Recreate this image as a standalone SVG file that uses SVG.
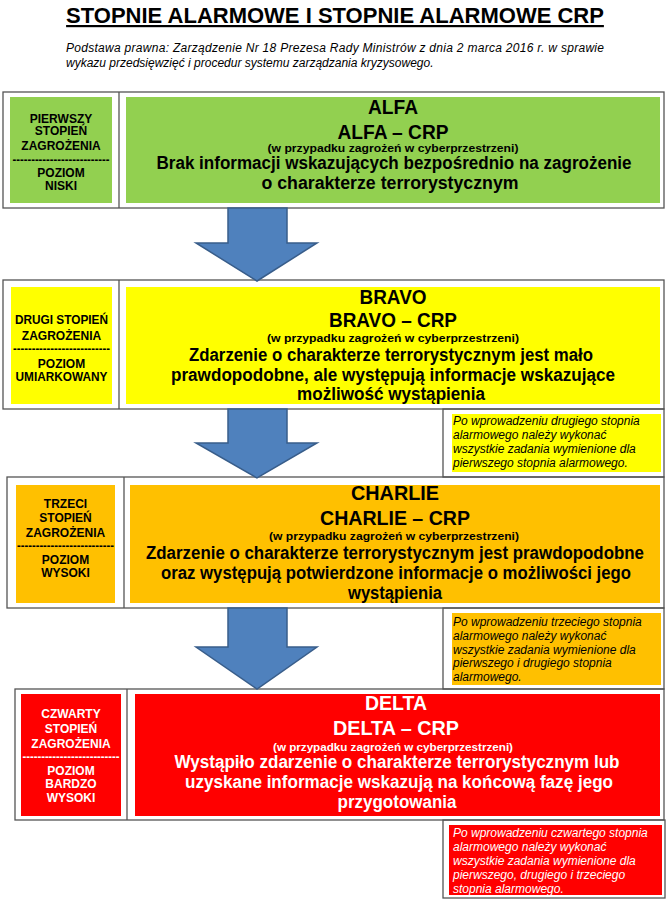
<svg xmlns="http://www.w3.org/2000/svg" width="670" height="904" viewBox="0 0 670 904">
<style>
text{font-family:"Liberation Sans",Arial,sans-serif;fill:#000}
.frame{fill:none;stroke:#555;stroke-width:1.3}
.dv{stroke:#555;stroke-width:1.3}
.h{font-weight:bold;font-size:20px;text-anchor:middle}
.s{font-weight:bold;font-size:11.5px;text-anchor:middle}
.b{font-weight:bold;font-size:17.5px;text-anchor:middle}
.l{font-weight:bold;font-size:12px;text-anchor:middle}
.n{font-style:italic;font-size:12px}
.w{fill:#fff}
.green{fill:#92D050}
.yellow{fill:#FFFF00}
.orange{fill:#FFC000}
.red{fill:#FF0000}
.arrow{fill:#4F81BD;stroke:#385D8A;stroke-width:1.5}
</style>
<rect width="670" height="904" fill="#fff"/>

<g id="title">
<text x="335" y="23" text-anchor="middle" font-weight="bold" font-size="22" text-decoration="underline">STOPNIE ALARMOWE I STOPNIE ALARMOWE CRP</text>
<text class="n" x="66" y="52" textLength="538" lengthAdjust="spacing">Podstawa prawna: Zarządzenie Nr 18 Prezesa Rady Ministrów z dnia 2 marca 2016 r. w sprawie</text>
<text class="n" x="66" y="67">wykazu przedsięwzięć i procedur systemu zarządzania kryzysowego.</text>
</g>

<g id="alfa">
<rect class="frame" x="3" y="92" width="661" height="116"/>
<line class="dv" x1="119" y1="92" x2="119" y2="208"/>
<rect class="green" x="10" y="97" width="102" height="106"/>
<rect class="green" x="126" y="97" width="534" height="106"/>
<text class="l" x="61" y="122.5">PIERWSZY</text>
<text class="l" x="61" y="135">STOPIEŃ</text>
<text class="l" x="61" y="149.5">ZAGROŻENIA</text>
<text class="l" x="61" y="163.5" textLength="97" lengthAdjust="spacingAndGlyphs">--------------------------</text>
<text class="l" x="61" y="177">POZIOM</text>
<text class="l" x="61" y="190">NISKI</text>
<text class="h" x="393" y="114" textLength="50" lengthAdjust="spacingAndGlyphs">ALFA</text>
<text class="h" x="393" y="139" textLength="111" lengthAdjust="spacingAndGlyphs">ALFA – CRP</text>
<text class="s" x="393" y="152" textLength="251" lengthAdjust="spacingAndGlyphs">(w przypadku zagrożeń w cyberprzestrzeni)</text>
<text class="b" x="394" y="169" textLength="475" lengthAdjust="spacingAndGlyphs">Brak informacji wskazujących bezpośrednio na zagrożenie</text>
<text class="b" x="390" y="189" textLength="257" lengthAdjust="spacingAndGlyphs">o charakterze terrorystycznym</text>
</g>

<g id="bravo">
<rect class="frame" x="3" y="280" width="661" height="129"/>
<line class="dv" x1="119" y1="280" x2="119" y2="409"/>
<rect class="yellow" x="11" y="287" width="101" height="117"/>
<rect class="yellow" x="126" y="287" width="534" height="117"/>
<text class="l" x="61.5" y="323.5" textLength="93" lengthAdjust="spacingAndGlyphs">DRUGI STOPIEŃ</text>
<text class="l" x="61.5" y="339.5">ZAGROŻENIA</text>
<text class="l" x="61.5" y="352.6" textLength="97" lengthAdjust="spacingAndGlyphs">--------------------------</text>
<text class="l" x="61.5" y="367.5">POZIOM</text>
<text class="l" x="61.5" y="380.5" textLength="92" lengthAdjust="spacingAndGlyphs">UMIARKOWANY</text>
<text class="h" x="393" y="304" textLength="67" lengthAdjust="spacingAndGlyphs">BRAVO</text>
<text class="h" x="393" y="327" textLength="128" lengthAdjust="spacingAndGlyphs">BRAVO – CRP</text>
<text class="s" x="393" y="342" textLength="252" lengthAdjust="spacingAndGlyphs">(w przypadku zagrożeń w cyberprzestrzeni)</text>
<text class="b" x="391" y="361" textLength="404" lengthAdjust="spacingAndGlyphs">Zdarzenie o charakterze terrorystycznym jest mało</text>
<text class="b" x="393" y="381" textLength="444" lengthAdjust="spacingAndGlyphs">prawdopodobne, ale  występują informacje wskazujące</text>
<text class="b" x="391" y="400" textLength="188" lengthAdjust="spacingAndGlyphs">możliwość wystąpienia</text>
</g>

<g id="note-bravo">
<rect class="frame" x="443" y="409" width="221" height="68"/>
<rect class="yellow" x="452" y="414" width="209" height="58"/>
<text class="n" x="453" y="425">Po wprowadzeniu drugiego stopnia</text>
<text class="n" x="453" y="439">alarmowego należy wykonać</text>
<text class="n" x="453" y="453">wszystkie zadania wymienione dla</text>
<text class="n" x="453" y="467">pierwszego stopnia alarmowego.</text>
</g>

<g id="charlie">
<rect class="frame" x="7" y="477" width="657" height="131"/>
<line class="dv" x1="124" y1="477" x2="124" y2="608"/>
<rect class="orange" x="16" y="485" width="99" height="118"/>
<rect class="orange" x="130" y="485" width="530" height="118"/>
<text class="l" x="65.5" y="507.5">TRZECI</text>
<text class="l" x="65.5" y="521.5">STOPIEŃ</text>
<text class="l" x="65.5" y="536.5">ZAGROŻENIA</text>
<text class="l" x="65.5" y="549.6" textLength="97" lengthAdjust="spacingAndGlyphs">--------------------------</text>
<text class="l" x="65.5" y="563.5">POZIOM</text>
<text class="l" x="65.5" y="577">WYSOKI</text>
<text class="h" x="395" y="500" textLength="88" lengthAdjust="spacingAndGlyphs">CHARLIE</text>
<text class="h" x="395" y="525" textLength="150" lengthAdjust="spacingAndGlyphs">CHARLIE – CRP</text>
<text class="s" x="394" y="540" textLength="250" lengthAdjust="spacingAndGlyphs">(w przypadku zagrożeń w cyberprzestrzeni)</text>
<text class="b" x="395" y="559" textLength="498" lengthAdjust="spacingAndGlyphs">Zdarzenie o charakterze terrorystycznym jest prawdopodobne</text>
<text class="b" x="396" y="579" textLength="470" lengthAdjust="spacingAndGlyphs">oraz występują potwierdzone informacje o możliwości jego</text>
<text class="b" x="395" y="599" textLength="94" lengthAdjust="spacingAndGlyphs">wystąpienia</text>
</g>

<g id="note-charlie">
<rect class="frame" x="443" y="608" width="221" height="81"/>
<rect class="orange" x="452" y="613" width="209" height="72"/>
<text class="n" x="453" y="626">Po wprowadzeniu trzeciego stopnia</text>
<text class="n" x="453" y="640">alarmowego należy wykonać</text>
<text class="n" x="453" y="654">wszystkie zadania wymienione dla</text>
<text class="n" x="453" y="667">pierwszego i drugiego stopnia</text>
<text class="n" x="453" y="681">alarmowego.</text>
</g>

<g id="delta">
<rect class="frame" x="15" y="689" width="649" height="131"/>
<line class="dv" x1="127" y1="689" x2="127" y2="820"/>
<rect class="red" x="21" y="694" width="100" height="122"/>
<rect class="red" x="135" y="694" width="525" height="122"/>
<text class="l w" x="71" y="717.5">CZWARTY</text>
<text class="l w" x="71" y="732.5">STOPIEŃ</text>
<text class="l w" x="71" y="747.5">ZAGROŻENIA</text>
<text class="l w" x="71" y="760.6" textLength="97" lengthAdjust="spacingAndGlyphs">--------------------------</text>
<text class="l w" x="71" y="774.5">POZIOM</text>
<text class="l w" x="71" y="788">BARDZO</text>
<text class="l w" x="71" y="802">WYSOKI</text>
<text class="h w" x="396" y="710" textLength="62" lengthAdjust="spacingAndGlyphs">DELTA</text>
<text class="h w" x="396" y="735" textLength="126" lengthAdjust="spacingAndGlyphs">DELTA – CRP</text>
<text class="s w" x="393" y="751" textLength="240" lengthAdjust="spacingAndGlyphs">(w przypadku zagrożeń w cyberprzestrzeni)</text>
<text class="b w" x="397" y="768" textLength="445" lengthAdjust="spacingAndGlyphs">Wystąpiło zdarzenie o charakterze terrorystycznym lub</text>
<text class="b w" x="399" y="788" textLength="428" lengthAdjust="spacingAndGlyphs">uzyskane informacje wskazują na końcową fazę jego</text>
<text class="b w" x="397" y="808" textLength="119" lengthAdjust="spacingAndGlyphs">przygotowania</text>
</g>

<g id="note-delta">
<rect class="frame" x="443" y="820" width="222" height="78"/>
<rect class="red" x="449" y="825" width="213" height="70"/>
<text class="n w" x="453" y="837" font-size="12.5">Po wprowadzeniu czwartego stopnia</text>
<text class="n w" x="453" y="851" font-size="12.5">alarmowego należy wykonać</text>
<text class="n w" x="453" y="865" font-size="12.5">wszystkie zadania wymienione dla</text>
<text class="n w" x="453" y="879" font-size="12.5">pierwszego, drugiego i trzeciego</text>
<text class="n w" x="453" y="893" font-size="12.5">stopnia alarmowego.</text>
</g>

<g id="connectors">
<path class="arrow" d="M228,208 H287 V243 H317 L257,281 L196,243 H228 Z"/>
<path class="arrow" d="M228,409 H287 V443 H317 L257,478 L196,443 H228 Z"/>
<path class="arrow" d="M228,608 H287 V647 H317 L257,689 L196,647 H228 Z"/>
</g>
</svg>
